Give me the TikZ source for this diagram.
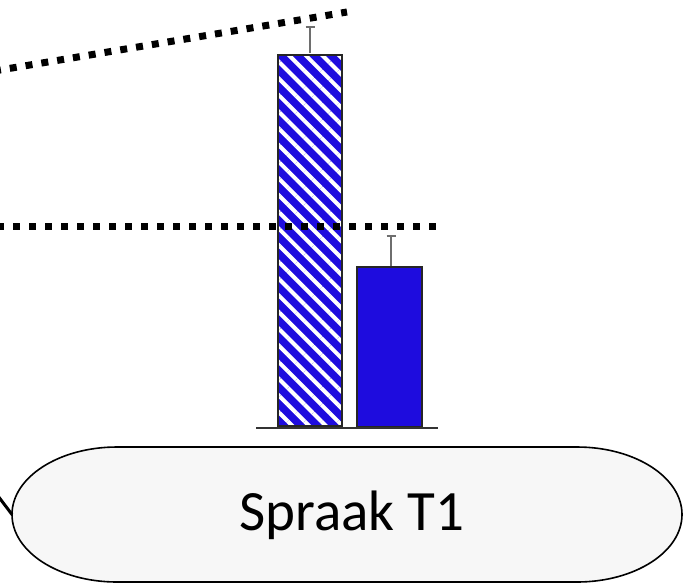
\documentclass[tikz,border=0pt]{standalone}
\usepackage{fontspec}
\newfontfamily\labelfont{Carlito}
\usetikzlibrary{patterns.meta}
\definecolor{barblue}{RGB}{30,12,222}
\definecolor{stadfill}{RGB}{247,247,247}
\definecolor{errgray}{RGB}{110,110,110}
\tikzset{
  barbox/.style={draw=black!85, line width=1.6pt, inner sep=0pt, anchor=south},
  hatchbar/.style={barbox, preaction={fill=barblue},
     pattern={Lines[angle=-45, distance=11.8pt, line width=4pt]}, pattern color=white},
  solidbar/.style={barbox, fill=barblue},
  errbar/.style={draw=errgray, line width=2pt},
  dotline/.style={line width=7pt, dash pattern=on 7pt off 9pt},
  stadium/.style={draw=black, line width=1.6pt, fill=stadfill},
}
\begin{document}
\begin{tikzpicture}[x=1pt, y=-1pt]
\useasboundingbox (0,0) rectangle (692,584);
% stadium
\coordinate (stadL) at (12,514.5);
\draw[stadium] (117,447) -- (577,447) arc[start angle=-90, end angle=90, x radius=105, y radius=67.5]
  -- (117,582) arc[start angle=90, end angle=270, x radius=105, y radius=67.5] -- cycle;
\node[font=\labelfont\fontsize{57}{60}\selectfont, inner sep=0pt] (lbl) at (352,515) {Spraak T1};
\coordinate (cin) at (-2,496);
\draw[line width=3pt] (cin) -- (stadL);
% bars
\node[hatchbar, minimum width=64pt, minimum height=371pt] (b1) at (310,428) {};
\node[solidbar, minimum width=65pt, minimum height=160pt] (b2) at (389.5,428) {};
% error bars
\coordinate (e1) at (310,27);
\coordinate (e2) at (391,236);
\draw[errbar] (b1.north) -- (e1);
\draw[errbar] ([xshift=-4.5pt]e1) -- ([xshift=4.5pt]e1);
\draw[errbar] (e2 |- b2.north) -- (e2);
\draw[errbar] ([xshift=-4.5pt]e2) -- ([xshift=4.5pt]e2);
% baseline
\coordinate (bl1) at (256,428);
\coordinate (bl2) at (438,428);
\draw[line width=2pt, draw=black!80] (bl1) -- (bl2);
% dotted lines
\coordinate (h1) at (-3,226);
\coordinate (h2) at (437,226);
\draw[dotline] (h1) -- (h2);
\coordinate (s1) at (-6,71);
\coordinate (s2) at (347,12);
\draw[dotline] (s1) -- (s2);
\end{tikzpicture}
\end{document}
